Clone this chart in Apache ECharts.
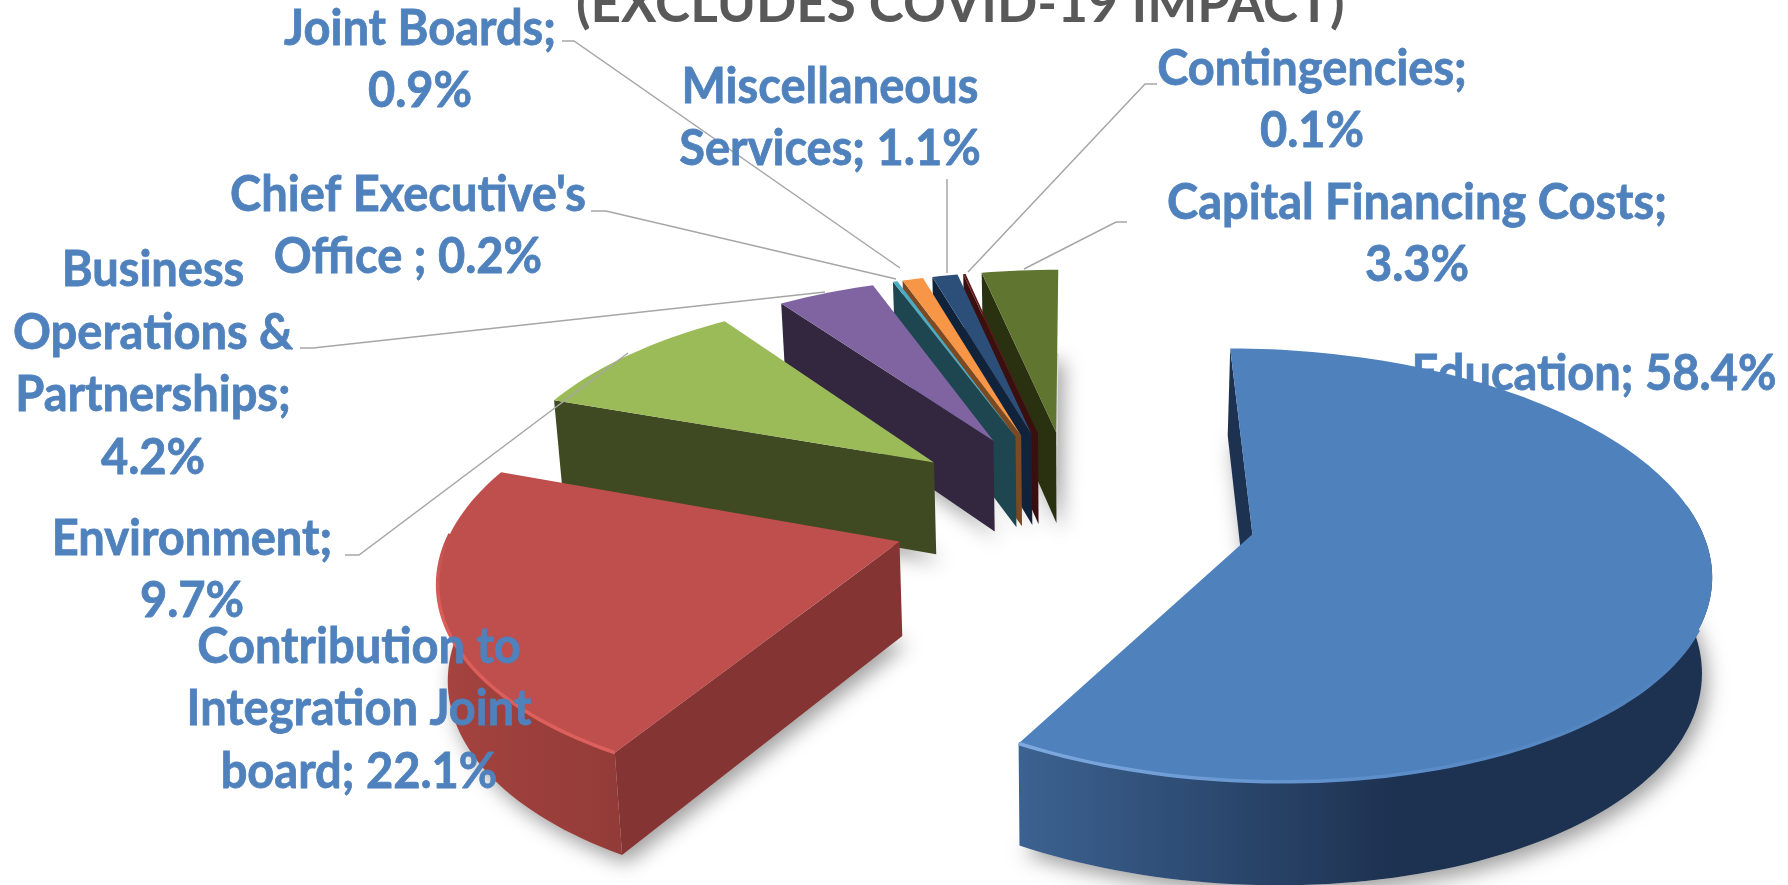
<!DOCTYPE html>
<html>
<head>
<meta charset="utf-8">
<title>Budget pie</title>
<style>
  html, body { margin: 0; padding: 0; background: #fff; }
  #chart { width: 1788px; height: 885px; }
</style>
<script src="https://cdn.jsdelivr.net/npm/echarts@6/dist/echarts.min.js"></script>
</head>
<body>
<div id="chart"></div>
<script>
const titleText = '(EXCLUDES COVID-19 IMPACT)';
const categories = ['Education', 'Contribution to Integration Joint board', 'Environment',
  'Business Operations & Partnerships', "Chief Executive's Office", 'Joint Boards',
  'Miscellaneous Services', 'Contingencies', 'Capital Financing Costs'];
const values = [58.4, 22.1, 9.7, 4.2, 0.2, 0.9, 1.1, 0.1, 3.3];
const labelTexts = ['Education; 58.4%', 'Contribution to\nIntegration Joint\nboard; 22.1%', 'Environment;\n9.7%',
  'Business\nOperations &\nPartnerships;\n4.2%', "Chief Executive's\nOffice ; 0.2%", 'Joint Boards;\n0.9%',
  'Miscellaneous\nServices; 1.1%', 'Contingencies;\n0.1%', 'Capital Financing Costs;\n3.3%'];

const topColors = ['#4F81BD', '#BE4F4C', '#9BBB59', '#8064A2', '#4BACC6', '#F79646', '#2C4F7A', '#5E1A18', '#5F7530'];
const wallColors = ['#1D3150', '#843432', '#404A22', '#33273F', '#1E4650', '#7C4A22', '#10233B', '#3A0F10', '#2A3110'];

// label centre and leader line, same order as categories
const labelPos = [[1594, 374], [359, 709], [192, 570], [153, 364], [408, 226], [420, 60], [830, 118], [1312, 100], [1417, 234]];
const leaders = [
  null,
  null,
  [[345, 555], [359, 555], [628, 353]],
  [[300, 348], [313, 348], [825, 292]],
  [[591, 211], [606, 211], [896, 279]],
  [[562, 41], [574, 41], [900, 268]],
  [[947, 179], [947, 273]],
  [[1157, 84], [1145, 84], [968, 272]],
  [[1127, 222], [1116, 222], [1024, 269]]
];

// tilted pie camera, full size px
const cx = 1074, cy = 512, radX = 444, radY = 206, depth = 93.5;
const persp = 0.14, sink = 0.984, explode = 0.41;

function project(X, Y) {
  const w = 1 - persp * Y;
  return [cx + radX * X / w, cy + radY * Y / w, w];
}
function toBottom(p) {
  return [cx + (p[0] - cx) * sink, p[1] + depth * Math.pow(p[2], -0.6)];
}
function dir(deg) {
  const a = deg * Math.PI / 180;
  return [Math.sin(a), -Math.cos(a)];
}

// angles from the values, clockwise from 12 o'clock
const total = values.reduce((s, v) => s + v, 0);
let acc = 0;
const sliceData = values.map((v, i) => {
  const start = acc / total * 360;
  acc += v;
  return [i, start, acc / total * 360];
}).reverse(); // far slices paint first

function arcPoints(s, a0, a1) {
  const mid = dir((s.start + s.end) / 2);
  const ox = mid[0] * explode, oy = mid[1] * explode;
  const pts = [];
  const n = Math.max(2, Math.ceil((a1 - a0) / 1.5));
  for (let k = 0; k <= n; k++) {
    const d = dir(a0 + (a1 - a0) * k / n);
    pts.push(project(ox + d[0], oy + d[1]));
  }
  return pts;
}

function renderSlice(params, api) {
  const i = api.value(0);
  const s = { start: api.value(1), end: api.value(2) };
  const mid = dir((s.start + s.end) / 2);
  const apex = project(mid[0] * explode, mid[1] * explode);
  const arc = arcPoints(s, s.start, s.end);
  const xy = p => [p[0], p[1]];
  const children = [];

  // bottom face only carries the soft shadow
  children.push({
    type: 'polygon',
    shape: { points: [toBottom(apex)].concat(arc.map(toBottom)) },
    style: { fill: '#DADADA', shadowColor: 'rgba(0,0,0,0.38)', shadowBlur: 20, shadowOffsetX: 5, shadowOffsetY: 8 }
  });

  // outer wall, front half only
  const a0 = Math.max(s.start, 82), a1 = Math.min(s.end, 272);
  if (a1 > a0) {
    const front = arcPoints(s, a0, a1);
    let fill = wallColors[i];
    if (i === 0) {
      fill = { type: 'linear', x: 0, y: 0, x2: 1, y2: 0, colorStops: [
        { offset: 0, color: '#3C6291' }, { offset: 0.55, color: '#1D3150' }, { offset: 1, color: '#1D3150' }] };
    } else if (i === 1) {
      fill = { type: 'linear', x: 0, y: 0, x2: 1, y2: 0, colorStops: [
        { offset: 0, color: '#A5433F' }, { offset: 1, color: '#933B38' }] };
    }
    children.push({
      type: 'polygon',
      shape: { points: front.map(xy).concat(front.map(toBottom).reverse()) },
      style: { fill: fill }
    });
  }

  // cut wall on the leading edge
  const first = arc[0];
  children.push({
    type: 'polygon',
    shape: { points: [xy(apex), xy(first), toBottom(first), toBottom(apex)] },
    style: { fill: wallColors[i] }
  });

  // top face
  children.push({
    type: 'polygon',
    shape: { points: [xy(apex)].concat(arc.map(xy)) },
    style: { fill: topColors[i] }
  });

  // bevel along the front rim of the two big slices
  if (i < 2) {
    const rim = arcPoints(s, Math.max(s.start, 115), Math.min(s.end, 272)).map(xy);
    const rimFill = i === 0
      ? { type: 'linear', x: 0, y: 0, x2: 1, y2: 0, colorStops: [
          { offset: 0, color: '#7FAAE0' }, { offset: 0.5, color: '#5E8FCB' }, { offset: 1, color: '#4F81BD' }] }
      : { type: 'linear', x: 0, y: 0, x2: 0, y2: 1, colorStops: [
          { offset: 0, color: '#BE4F4C' }, { offset: 0.3, color: '#D95D59' }, { offset: 1, color: '#DE605C' }] };
    children.push({
      type: 'polyline',
      shape: { points: rim },
      style: { fill: 'none', stroke: rimFill, lineWidth: 3.5 }
    });
  }
  return { type: 'group', children: children };
}

function renderLabel(params, api) {
  const i = api.value(0);
  const children = [];
  if (leaders[i]) {
    children.push({
      type: 'polyline',
      shape: { points: leaders[i] },
      style: { fill: 'none', stroke: '#A6A6A6', lineWidth: 1.5 }
    });
  }
  children.push({
    type: 'text',
    x: labelPos[i][0],
    y: labelPos[i][1],
    scaleX: 0.94,
    style: {
      text: labelTexts[i],
      fontFamily: 'Lato',
      fontWeight: 'bold',
      fontSize: 50,
      lineHeight: 62.5,
      fill: '#4F81BD',
      stroke: '#4F81BD',
      lineWidth: 0.8,
      align: 'center',
      verticalAlign: 'middle'
    }
  });
  return { type: 'group', children: children };
}

const chart = echarts.init(document.getElementById('chart'), null, { renderer: 'canvas' });
chart.setOption({
  animation: false,
  backgroundColor: '#fff',
  title: {
    text: titleText,
    left: 571,
    top: -27,
    textStyle: { fontFamily: 'Lato', fontWeight: 'bold', fontSize: 53, color: '#595959' }
  },
  series: [
    {
      // this one label sits behind the pie
      type: 'custom',
      coordinateSystem: 'none',
      z: 1,
      silent: true,
      data: [[0]],
      renderItem: renderLabel
    },
    {
      type: 'custom',
      coordinateSystem: 'none',
      z: 2,
      silent: true,
      data: sliceData,
      renderItem: renderSlice
    },
    {
      type: 'custom',
      coordinateSystem: 'none',
      z: 3,
      silent: true,
      data: categories.map((c, i) => [i]).slice(1),
      renderItem: renderLabel
    }
  ]
});
</script>
</body>
</html>
